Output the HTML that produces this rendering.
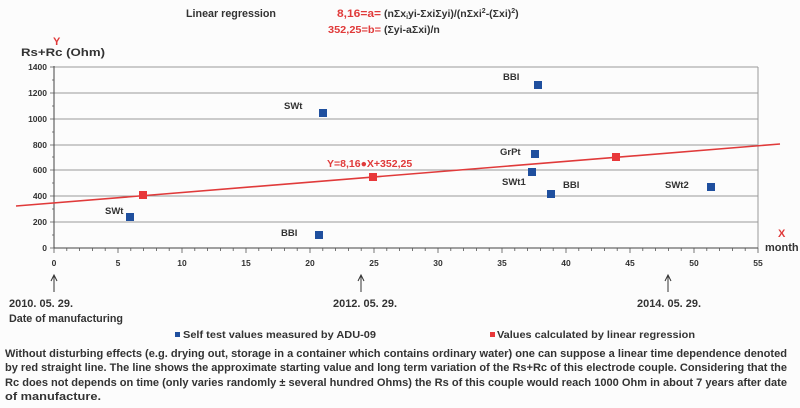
<!DOCTYPE html>
<html><head><meta charset="utf-8"><style>
html,body{margin:0;padding:0;background:#fcfcfc;}
svg{display:block;}
text{font-family:"Liberation Sans",Arial,sans-serif;font-weight:bold;}
</style></head><body>
<svg width="800" height="408" viewBox="0 0 800 408" xmlns="http://www.w3.org/2000/svg">
<rect width="800" height="408" fill="#fcfcfc"/>
<text x="186" y="17" font-size="11" fill="#333" textLength="90" lengthAdjust="spacingAndGlyphs">Linear regression</text>
<text x="337" y="17" font-size="11" fill="#e03a3a" textLength="44" lengthAdjust="spacingAndGlyphs">8,16=a=</text>
<text x="384" y="17" font-size="10.5" fill="#333">(nΣx<tspan font-size="7" dy="2">i</tspan><tspan dy="-2">yi-ΣxiΣyi)/(nΣxi</tspan><tspan font-size="7" dy="-4">2</tspan><tspan dy="4">-(Σxi)</tspan><tspan font-size="7" dy="-4">2</tspan><tspan dy="4">)</tspan></text>
<text x="328" y="33" font-size="10" fill="#e03a3a" textLength="53" lengthAdjust="spacingAndGlyphs">352,25=b=</text>
<text x="384" y="33" font-size="10.5" fill="#333">(Σyi-aΣxi)/n</text>
<text x="53" y="45" font-size="11" fill="#e03a3a">Y</text>
<text x="21" y="56" font-size="11" fill="#333" textLength="84" lengthAdjust="spacingAndGlyphs">Rs+Rc (Ohm)</text>
<g stroke="#9a9a9a" stroke-width="1">
<line x1="54" y1="67" x2="758" y2="67"/>
<line x1="54" y1="93" x2="758" y2="93"/>
<line x1="54" y1="119" x2="758" y2="119"/>
<line x1="54" y1="145" x2="758" y2="145"/>
<line x1="54" y1="170" x2="758" y2="170"/>
<line x1="54" y1="196" x2="758" y2="196"/>
<line x1="54" y1="222" x2="758" y2="222"/>
<line x1="758" y1="67" x2="758" y2="248"/>
</g>
<g stroke="#444" stroke-width="1">
<line x1="54" y1="66" x2="54" y2="248"/>
<line x1="54" y1="248" x2="758" y2="248"/>
</g>
<g font-size="8.5" fill="#333" text-anchor="end">
<text x="47" y="70">1400</text><text x="47" y="96">1200</text><text x="47" y="122">1000</text>
<text x="47" y="148">800</text><text x="47" y="173">600</text><text x="47" y="199">400</text>
<text x="47" y="225">200</text><text x="47" y="251">0</text>
</g>
<g font-size="8.5" fill="#333" text-anchor="middle">
<text x="54" y="266">0</text><text x="118" y="266">5</text><text x="182" y="266">10</text>
<text x="246" y="266">15</text><text x="310" y="266">20</text><text x="374" y="266">25</text>
<text x="438" y="266">30</text><text x="502" y="266">35</text><text x="566" y="266">40</text>
<text x="630" y="266">45</text><text x="694" y="266">50</text><text x="758" y="266">55</text>
</g>
<text x="778" y="237" font-size="11" fill="#e03a3a">X</text>
<text x="765" y="251" font-size="11" fill="#333">month</text>
<line x1="16" y1="206" x2="780" y2="144" stroke="#e03a3a" stroke-width="1.6"/>
<text x="327" y="167" font-size="10.5" fill="#e03a3a">Y=8,16●X+352,25</text>
<g fill="#1f4f9e">
<rect x="126" y="213" width="8" height="8"/>
<rect x="315" y="231" width="8" height="8"/>
<rect x="319" y="109" width="8" height="8"/>
<rect x="534" y="81" width="8" height="8"/>
<rect x="531" y="150" width="8" height="8"/>
<rect x="528" y="168" width="8" height="8"/>
<rect x="547" y="190" width="8" height="8"/>
<rect x="707" y="183" width="8" height="8"/>
</g>
<g fill="#e8383a">
<rect x="139" y="191" width="8" height="8"/>
<rect x="369" y="173" width="8" height="8"/>
<rect x="612" y="153" width="8" height="8"/>
</g>
<g font-size="9.5" fill="#333">
<text x="105" y="214">SWt</text>
<text x="281" y="236">BBI</text>
<text x="284" y="109">SWt</text>
<text x="503" y="80">BBI</text>
<text x="500" y="155">GrPt</text>
<text x="502" y="185">SWt1</text>
<text x="563" y="188">BBI</text>
<text x="665" y="188">SWt2</text>
</g>
<g stroke="#333" stroke-width="1" fill="none">
<path d="M54 292 V276 M51 281 L54 275 L57 281"/>
<path d="M361 292 V276 M358 281 L361 275 L364 281"/>
<path d="M668 292 V276 M665 281 L668 275 L671 281"/>
</g>
<g font-size="11" fill="#333">
<text x="9" y="307" textLength="64" lengthAdjust="spacingAndGlyphs">2010. 05. 29.</text>
<text x="9" y="322" textLength="114" lengthAdjust="spacingAndGlyphs">Date of manufacturing</text>
<text x="333" y="307" textLength="64" lengthAdjust="spacingAndGlyphs">2012. 05. 29.</text>
<text x="637" y="307" textLength="64" lengthAdjust="spacingAndGlyphs">2014. 05. 29.</text>
</g>
<rect x="175" y="332" width="5" height="5" fill="#1f4f9e"/>
<text x="183" y="338" font-size="10.5" fill="#333" textLength="193" lengthAdjust="spacingAndGlyphs">Self test values measured by ADU-09</text>
<rect x="490" y="332" width="5" height="5" fill="#e8383a"/>
<text x="497" y="338" font-size="10.5" fill="#333" textLength="198" lengthAdjust="spacingAndGlyphs">Values calculated by linear regression</text>
<g font-size="11" fill="#333">
<text x="5" y="357" textLength="782" lengthAdjust="spacingAndGlyphs">Without disturbing effects (e.g. drying out, storage in a container which contains ordinary water) one can suppose a linear time dependence denoted</text>
<text x="5" y="371" textLength="782" lengthAdjust="spacingAndGlyphs">by red straight line. The line shows the approximate starting value and long term variation of the Rs+Rc of this electrode couple.  Considering that the</text>
<text x="5" y="386" textLength="782" lengthAdjust="spacingAndGlyphs">Rc does not depends on time (only varies randomly ± several hundred Ohms) the Rs of this couple  would reach 1000 Ohm in about 7 years after date</text>
<text x="5" y="400" textLength="96" lengthAdjust="spacingAndGlyphs">of manufacture.</text>
</g>
<g stroke="#555" stroke-width="0.8">
<path d="M66.8 248v3M79.6 248v3M92.4 248v3M105.2 248v3M130.8 248v3M143.6 248v3M156.4 248v3M169.2 248v3M194.8 248v3M207.6 248v3M220.4 248v3M233.2 248v3M258.8 248v3M271.6 248v3M284.4 248v3M297.2 248v3M322.8 248v3M335.6 248v3M348.4 248v3M361.2 248v3M386.8 248v3M399.6 248v3M412.4 248v3M425.2 248v3M450.8 248v3M463.6 248v3M476.4 248v3M489.2 248v3M514.8 248v3M527.6 248v3M540.4 248v3M553.2 248v3M578.8 248v3M591.6 248v3M604.4 248v3M617.2 248v3M642.8 248v3M655.6 248v3M668.4 248v3M681.2 248v3M706.8 248v3M719.6 248v3M732.4 248v3M745.2 248v3"/>
<path d="M54 248v5M118 248v5M182 248v5M246 248v5M310 248v5M374 248v5M438 248v5M502 248v5M566 248v5M630 248v5M694 248v5M758 248v5"/>
<path d="M50 67h4M50 93h4M50 119h4M50 145h4M50 170h4M50 196h4M50 222h4M50 248h4M52 80h2M52 106h2M52 132h2M52 157h2M52 183h2M52 209h2M52 235h2"/>
</g>
</svg>
</body></html>
